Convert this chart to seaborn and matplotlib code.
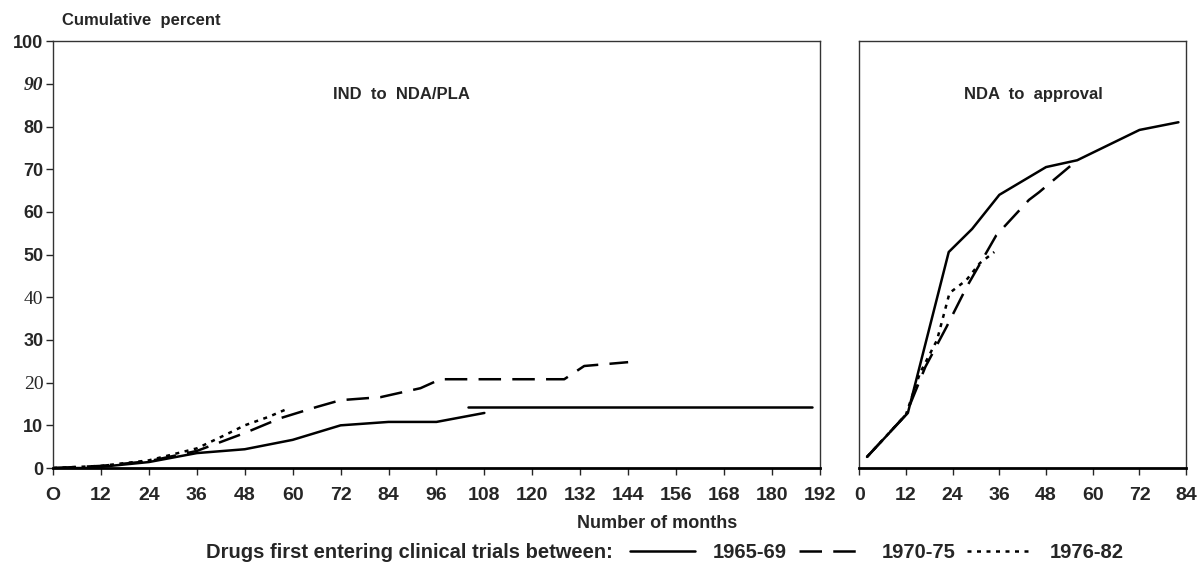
# %%
import numpy as np
import pandas as pd
import seaborn as sns
import matplotlib.pyplot as plt
from matplotlib.lines import Line2D

# %% values (months, cumulative percent)
periods = ['1965-69', '1970-75', '1976-82']

# IND to NDA/PLA
ind_6569_months = [0, 9, 24, 36, 48, 60, 72, 84, 96, 108]
ind_6569_pct = [0, 0, 1.4, 3.5, 4.4, 6.6, 10.0, 10.8, 10.8, 12.9]
ind_6569_tail_months = [104, 190]
ind_6569_tail_pct = [14.3, 14.3]
ind_7075_months = [0, 12, 24, 36, 48, 57, 66, 72, 82, 92, 97, 128, 133, 144]
ind_7075_pct = [0, 0.5, 1.6, 4.0, 8.2, 11.7, 14.3, 15.9, 16.6, 18.7, 20.8, 20.8, 23.9, 24.8]
ind_7682_months = [0, 12, 24, 36, 43, 48, 54, 59]
ind_7682_pct = [0, 0.5, 1.8, 4.6, 7.7, 10.0, 12.0, 14.0]

# NDA to approval
nda_6569_months = [2, 12.5, 23, 29, 36, 48, 56, 72, 82]
nda_6569_pct = [2.6, 12.9, 50.6, 56, 64, 70.5, 72.1, 79.2, 81]
nda_7075_months = [2, 12, 17, 22.4, 27.6, 35.2, 43.6, 46.2, 56]
nda_7075_pct = [2.6, 12.5, 23.7, 33, 42.4, 54.5, 62.8, 64.6, 72.1]
nda_7682_months = [2, 12, 15.6, 20, 23.2, 27.5, 31, 34.7]
nda_7682_pct = [2.6, 12.5, 22.2, 30, 41, 44, 48, 50.6]

left_xticks = list(range(0, 193, 12))
left_xlabels = ['O'] + [str(v) for v in left_xticks[1:]]
right_xticks = list(range(0, 85, 12))
yticks = list(range(0, 101, 10))

# %%
def segment(months, pct, period, seg):
    return pd.DataFrame({'months': months, 'pct': pct, 'period': period, 'seg': seg})

df_ind = pd.concat([
    segment(ind_6569_months, ind_6569_pct, '1965-69', 0),
    segment(ind_6569_tail_months, ind_6569_tail_pct, '1965-69', 1),
    segment(ind_7075_months, ind_7075_pct, '1970-75', 0),
    segment(ind_7682_months, ind_7682_pct, '1976-82', 0),
], ignore_index=True)

df_nda = pd.concat([
    segment(nda_6569_months, nda_6569_pct, '1965-69', 0),
    segment(nda_7075_months, nda_7075_pct, '1970-75', 0),
    segment(nda_7682_months, nda_7682_pct, '1976-82', 0),
], ignore_index=True)

line_styles = {
    '1965-69': dict(linestyle='-', lw=1.8),
    '1970-75': dict(linestyle=(0, (9, 4.5)), lw=1.8),
    '1976-82': dict(linestyle=(0, (1.6, 2.2)), lw=1.8),
}

# %%
sns.set_style('ticks')
plt.rcParams['font.family'] = ['Liberation Sans', 'DejaVu Sans']
plt.rcParams['font.weight'] = 'bold'

fig = plt.figure(figsize=(12, 5.73), dpi=100)
ax1 = fig.add_axes([0.0442, 0.1832, 0.639, 0.745])
ax2 = fig.add_axes([0.716, 0.1832, 0.2725, 0.745])

for ax, df in [(ax1, df_ind), (ax2, df_nda)]:
    for (period, seg), grp in df.groupby(['period', 'seg']):
        sns.lineplot(data=grp, x='months', y='pct', ax=ax, color='black',
                     estimator=None, sort=False, legend=False,
                     **line_styles[period])
    ax.set_ylim(0, 100)
    ax.set_xlabel('')
    ax.set_ylabel('')
    for side in ['left', 'right', 'top']:
        ax.spines[side].set_linewidth(1.0)
        ax.spines[side].set_color('#333333')
    ax.spines['bottom'].set_linewidth(2.0)
    ax.spines['bottom'].set_color('black')
    ax.tick_params(axis='x', direction='out', length=5, width=1, labelsize=14, pad=9)

# left panel
ax1.set_xlim(0, 192)
ax1.set_xticks(left_xticks)
ax1.set_xticklabels(left_xlabels, fontweight='bold')
ax1.set_yticks(yticks)
ax1.set_yticklabels([str(v) for v in yticks], fontweight='bold')
ax1.tick_params(axis='y', direction='out', length=5, width=1, labelsize=13, pad=2)

# odd scanned labels on the y axis
label_fonts = {
    '90': dict(family='Liberation Serif', style='italic', weight='bold'),
    '40': dict(family='Liberation Serif', style='normal', weight='normal'),
    '20': dict(family='Liberation Serif', style='normal', weight='normal'),
}
for lab in ax1.get_yticklabels():
    f = label_fonts.get(lab.get_text())
    if f:
        lab.set_fontfamily(f['family'])
        lab.set_fontstyle(f['style'])
        lab.set_fontweight(f['weight'])
        lab.set_fontsize(14)

# right panel
ax2.set_xlim(0, 84)
ax2.set_xticks(right_xticks)
ax2.set_xticklabels([str(v) for v in right_xticks], fontweight='bold')
ax2.set_yticks([])

ax1.text(0.455, 0.876, 'IND  to  NDA/PLA', transform=ax1.transAxes,
         ha='center', va='center', fontsize=12, fontweight='bold')
ax2.text(0.532, 0.876, 'NDA  to  approval', transform=ax2.transAxes,
         ha='center', va='center', fontsize=12, fontweight='bold')

fig.text(0.052, 0.965, 'Cumulative  percent', ha='left', va='center',
         fontsize=12, fontweight='bold')
fig.text(0.5475, 0.086, 'Number of months', ha='center', va='center',
         fontsize=13, fontweight='bold')

# legend at the bottom
fig.text(0.172, 0.035, 'Drugs first entering clinical trials between:',
         ha='left', va='center', fontsize=14.5, fontweight='bold')
handles = [Line2D([], [], color='black', **line_styles[p]) for p in periods]
fig.legend(handles, periods, loc='center left', bbox_to_anchor=(0.51, 0.035),
           ncol=3, frameon=False, handlelength=3.2, handletextpad=0.9,
           columnspacing=0.6, prop=dict(weight='bold', size=14.5))

fig.savefig('out.png', dpi=100)
